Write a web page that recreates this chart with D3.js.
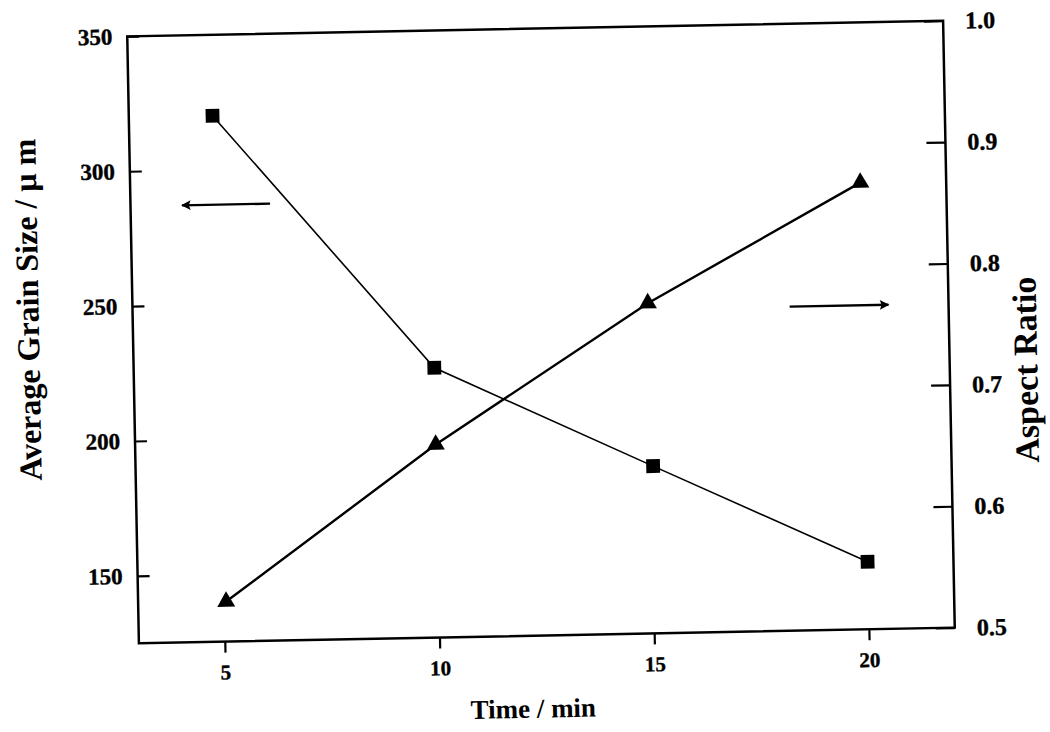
<!DOCTYPE html>
<meta charset="utf-8">
<head>
<style>
  body { margin: 0; background: #fff; }
  svg text { font-family: "Liberation Serif", "Times New Roman", serif; font-weight: bold; fill: #000; }
</style>
</head>
<script src="https://cdn.jsdelivr.net/npm/d3@7"></script>
<div id="chart"></div>
<script>

  // data
  var grainTime = [4.95, 10, 15.05, 20];
  var grainSize = [320, 225, 187, 150];        // average grain size, um (left axis)
  var ratioTime = [5.05, 10, 15, 20];
  var aspectRatio = [0.533, 0.659, 0.772, 0.868]; // aspect ratio (right axis)

  var xTicks = [5, 10, 15, 20];
  var leftTicks = [150, 200, 250, 300, 350];
  var rightTicks = [0.5, 0.6, 0.7, 0.8, 0.9, 1.0];

  // annotation arrows: [x start, x end, value]
  var leftArrow = [6.25, 4.2, 287];
  var rightArrow = [18.3, 20.6, 0.767];

  var width = 1050, height = 732;
  var margin = {top: 28.5, right: 101, bottom: 96.5, left: 133};
  var w = width - margin.left - margin.right,
      h = height - margin.top - margin.bottom;

  var svg = d3.select("#chart").append("svg")
      .attr("width", width)
      .attr("height", height);

  // the scan is slightly tilted
  var g = svg.append("g")
      .attr("transform", "rotate(-1.1, 541, 332) translate(" + margin.left + "," + margin.top + ")");

  var x = d3.scaleLinear().domain([3, 22]).range([0, w]);
  var yL = d3.scaleLinear().domain([125, 350]).range([h, 0]);
  var yR = d3.scaleLinear().domain([0.5, 1.0]).range([h, 0]);

  // axes
  var ax = g.append("g")
      .attr("transform", "translate(0," + h + ")")
      .call(d3.axisBottom(x).tickValues(xTicks).tickSize(11).tickPadding(12).tickSizeOuter(0));
  ax.selectAll("text").style("font-size", "21px");

  var al = g.append("g")
      .call(d3.axisLeft(yL).tickValues(leftTicks).tickSize(-12).tickPadding(15).tickSizeOuter(0));
  al.selectAll("text").style("font-size", "23px");

  var ar = g.append("g")
      .attr("transform", "translate(" + w + ",0)")
      .call(d3.axisRight(yR).tickValues(rightTicks).tickFormat(d3.format(".1f"))
        .tickSize(-19).tickPadding(22).tickSizeOuter(0));
  ar.selectAll("text").style("font-size", "24px");

  g.selectAll(".domain").remove();
  g.selectAll(".tick line").attr("stroke", "#000").attr("stroke-width", 2.2);
  g.selectAll(".tick text").attr("stroke", "#000").attr("stroke-width", 0.4);

  g.append("rect")
      .attr("width", w)
      .attr("height", h)
      .attr("fill", "none")
      .attr("stroke", "#000")
      .attr("stroke-width", 2.5);

  // grain size series (squares)
  var grain = grainTime.map(function(t, i) { return [t, grainSize[i]]; });
  g.append("path")
      .datum(grain)
      .attr("fill", "none")
      .attr("stroke", "#000")
      .attr("stroke-width", 1.6)
      .attr("d", d3.line().x(d => x(d[0])).y(d => yL(d[1])));
  g.selectAll(".sq").data(grain).join("path")
      .attr("class", "sq")
      .attr("transform", d => "translate(" + x(d[0]) + "," + yL(d[1]) + ")")
      .attr("d", d3.symbol().type(d3.symbolSquare).size(190));

  // aspect ratio series (triangles)
  var ratio = ratioTime.map(function(t, i) { return [t, aspectRatio[i]]; });
  g.append("path")
      .datum(ratio)
      .attr("fill", "none")
      .attr("stroke", "#000")
      .attr("stroke-width", 2.4)
      .attr("d", d3.line().x(d => x(d[0])).y(d => yR(d[1])));
  g.selectAll(".tri").data(ratio).join("path")
      .attr("class", "tri")
      .attr("transform", d => "translate(" + x(d[0]) + "," + yR(d[1]) + ")")
      .attr("d", d3.symbol().type(d3.symbolTriangle).size(140));

  // arrows pointing to each axis
  svg.append("defs").append("marker")
      .attr("id", "head")
      .attr("viewBox", "0 0 10 10")
      .attr("refX", 9).attr("refY", 5)
      .attr("markerWidth", 6.5).attr("markerHeight", 4)
      .attr("markerUnits", "strokeWidth")
      .attr("orient", "auto")
    .append("path")
      .attr("d", "M0,0 L10,5 L0,10 L2,5 Z")
      .attr("fill", "#000");

  g.append("line")
      .attr("x1", x(leftArrow[0])).attr("x2", x(leftArrow[1]))
      .attr("y1", yL(leftArrow[2])).attr("y2", yL(leftArrow[2]))
      .attr("stroke", "#000").attr("stroke-width", 2.4)
      .attr("marker-end", "url(#head)");
  g.append("line")
      .attr("x1", x(rightArrow[0])).attr("x2", x(rightArrow[1]))
      .attr("y1", yR(rightArrow[2])).attr("y2", yR(rightArrow[2]))
      .attr("stroke", "#000").attr("stroke-width", 2.4)
      .attr("marker-end", "url(#head)");

  // axis titles
  g.append("text")
      .attr("x", w / 2 - 15)
      .attr("y", h + 82)
      .attr("text-anchor", "middle")
      .style("font-size", "27px")
      .text("Time / min");

  g.append("text")
      .attr("transform", "translate(-105," + (h / 2 - 32) + ") rotate(-90)")
      .attr("text-anchor", "middle")
      .attr("dominant-baseline", "central")
      .style("font-size", "32px")
      .text("Average Grain Size / \u03bc m");

  g.append("text")
      .attr("transform", "translate(" + (w + 76) + "," + (h / 2 + 47) + ") rotate(-90)")
      .attr("text-anchor", "middle")
      .attr("dominant-baseline", "central")
      .style("font-size", "34px")
      .text("Aspect Ratio");

</script>
